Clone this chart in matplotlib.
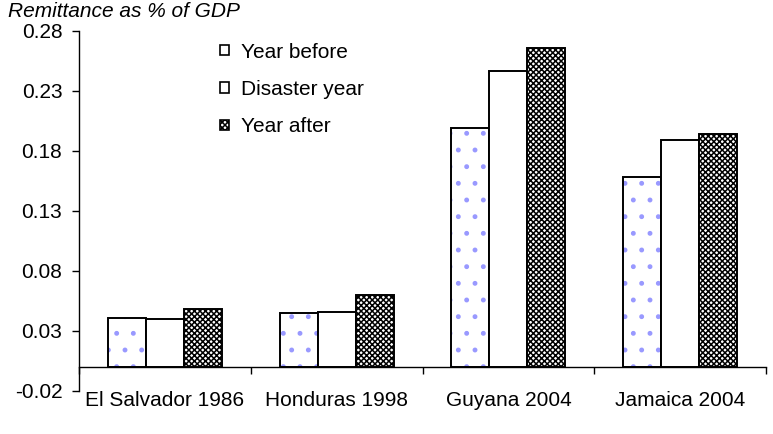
import matplotlib.pyplot as plt
import numpy as np
from matplotlib.patches import Patch

plt.rcParams['font.family'] = ['Liberation Sans', 'DejaVu Sans']
plt.rcParams['hatch.linewidth'] = 1.1

countries = ['El Salvador 1986', 'Honduras 1998', 'Guyana 2004', 'Jamaica 2004']
year_before = [0.041, 0.045, 0.199, 0.158]
disaster_year = [0.040, 0.046, 0.247, 0.189]
year_after = [0.048, 0.060, 0.266, 0.194]
yticks = [-0.02, 0.03, 0.08, 0.13, 0.18, 0.23, 0.28]

fig = plt.figure(figsize=(7.73, 4.34), dpi=100)
ax = fig.add_axes([0.1022, 0.0991, 0.8888, 0.8295])

x = np.arange(len(countries))
w = 0.221

# year before: sparse blue dots, black outline drawn on top
ax.bar(x - w, year_before, w, color='white', edgecolor='#9999ff', hatch='.', linewidth=0)
ax.bar(x - w, year_before, w, fill=False, edgecolor='black', linewidth=1.4)
ax.bar(x, disaster_year, w, color='white', edgecolor='black', linewidth=1.4)
ax.bar(x + w, year_after, w, color='white', edgecolor='black', hatch='xxxxxx', linewidth=1.4)

# legend handles
handles = [Patch(facecolor='white', edgecolor='black', linewidth=1.2),
           Patch(facecolor='white', edgecolor='black', linewidth=1.2),
           Patch(facecolor='white', edgecolor='black', hatch='xxxxxx', linewidth=1.2)]
ax.legend(handles, ['Year before', 'Disaster year', 'Year after'],
          loc='upper left', bbox_to_anchor=(0.205, 0.968), frameon=False,
          fontsize=15, handlelength=0.45, handleheight=0.38,
          handletextpad=0.55, labelspacing=0.88, borderpad=0, borderaxespad=0)

ax.set_xlim(-0.5, 3.5)
ax.set_ylim(-0.02, 0.28)
ax.set_yticks(yticks)
ax.set_yticklabels(['%.2f' % v for v in yticks])
ax.tick_params(axis='y', direction='out', length=5, width=1, pad=7, labelsize=15)

ax.spines['top'].set_visible(False)
ax.spines['right'].set_visible(False)
ax.spines['bottom'].set_position(('data', 0))
ax.spines['left'].set_linewidth(1)
ax.spines['bottom'].set_linewidth(1)

ax.set_xticks(np.arange(-0.5, 4, 1))
ax.set_xticklabels([])
ax.tick_params(axis='x', which='major', direction='out', length=5, width=1)
ax.set_xticks(x, minor=True)
ax.set_xticklabels(countries, minor=True)
ax.tick_params(axis='x', which='minor', length=0, pad=17, labelsize=15)

fig.text(0.01, 0.995, 'Remittance as % of GDP', style='italic', fontsize=15, va='top', ha='left')

fig.savefig('out.png', dpi=100)
